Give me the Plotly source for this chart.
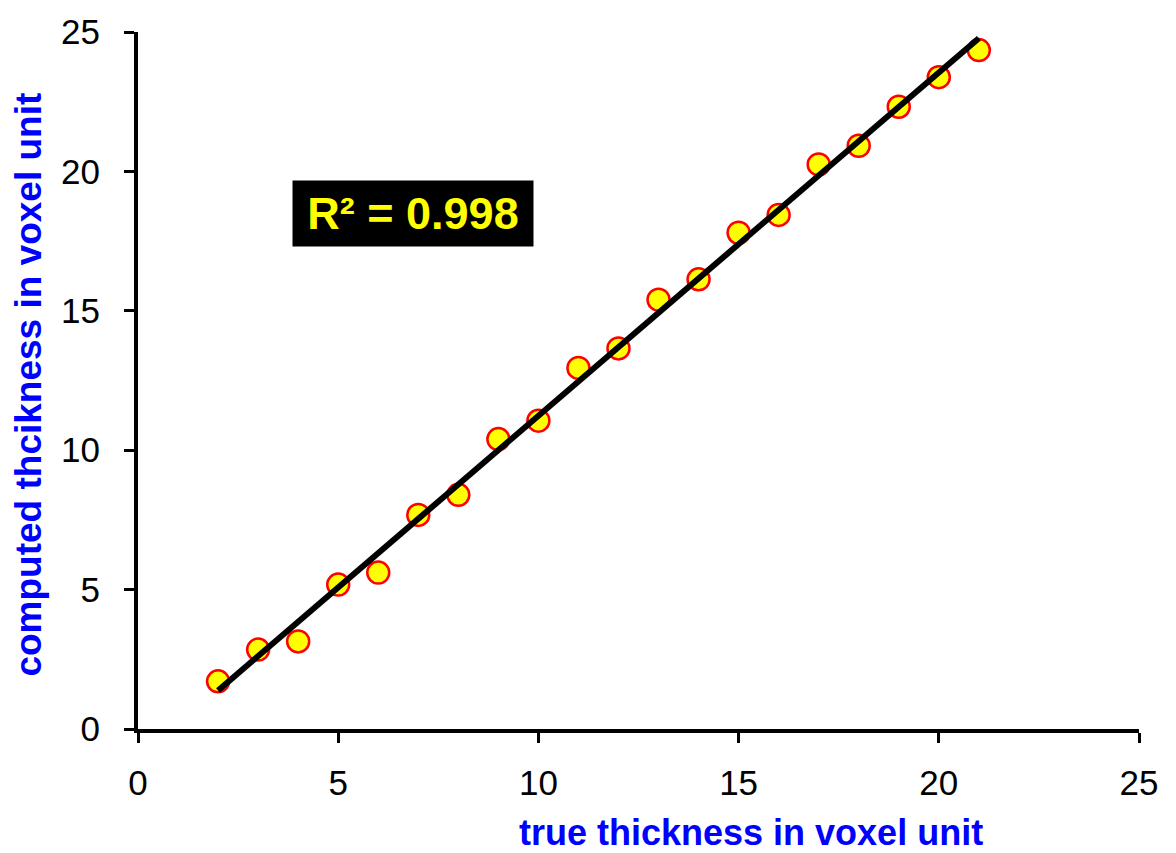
import numpy as np
import plotly.graph_objects as go

# true thickness (voxels) vs. computed thickness (voxels)
true_thickness = [2, 3, 4, 5, 6, 7, 8, 9, 10, 11, 12, 13, 14, 15, 16, 17, 18, 19, 20, 21]
computed_thickness = [1.71, 2.85, 3.14, 5.18, 5.61, 7.68, 8.40, 10.40, 11.06, 12.95,
                      13.65, 15.40, 16.13, 17.80, 18.44, 20.25, 20.92, 22.32, 23.38, 24.35]
tick_values = [0, 5, 10, 15, 20, 25]
r_squared_label = "R² = 0.998"

# least-squares trend line across the measured range
slope, intercept = np.polyfit(true_thickness, computed_thickness, 1)
fit_x = [true_thickness[0], true_thickness[-1]]
fit_y = [slope * v + intercept for v in fit_x]

FONT = "Arial, Liberation Sans, sans-serif"

fig = go.Figure()
fig.add_trace(go.Scatter(
    x=true_thickness, y=computed_thickness, mode="markers",
    marker=dict(size=22, color="#FFFF00", line=dict(color="#FF0000", width=2.5)),
    showlegend=False, cliponaxis=False,
))
fig.add_trace(go.Scatter(
    x=fit_x, y=fit_y, mode="lines",
    line=dict(color="black", width=6),
    showlegend=False, cliponaxis=False,
))

axis_common = dict(
    range=[0, 25], tickvals=tick_values, showgrid=False, zeroline=False,
    showline=True, linecolor="black", linewidth=4,
    ticks="outside", ticklen=10, tickwidth=3, tickcolor="black",
    tickfont=dict(family=FONT, size=35, color="black"),
)
fig.update_xaxes(**axis_common, ticklabelstandoff=10)
fig.update_yaxes(**axis_common, ticklabelstandoff=17)

fig.add_annotation(
    x=-0.109, y=0.494, xref="paper", yref="paper",
    text="computed thcikness in voxel unit", textangle=-90, showarrow=False,
    font=dict(family=FONT, size=37, color="#0000FF", weight="bold"),
    xanchor="center", yanchor="middle",
)
fig.add_annotation(
    x=0.6124, y=-0.149, xref="paper", yref="paper",
    text="true thickness in voxel unit", showarrow=False,
    font=dict(family=FONT, size=36, color="#0000FF", weight="bold"),
    xanchor="center", yanchor="middle",
)
fig.add_annotation(
    x=6.87, y=18.49, xref="x", yref="y",
    text="<b>" + r_squared_label + "</b>", showarrow=False,
    font=dict(family=FONT, size=45, color="#FFFF00"),
    bgcolor="black", width=236, height=61, borderpad=2,
    xanchor="center", yanchor="middle",
)

fig.update_layout(
    width=1176, height=853,
    margin=dict(l=138, r=37, t=24, b=124),
    paper_bgcolor="white", plot_bgcolor="white",
)

fig.write_html("out.html")
